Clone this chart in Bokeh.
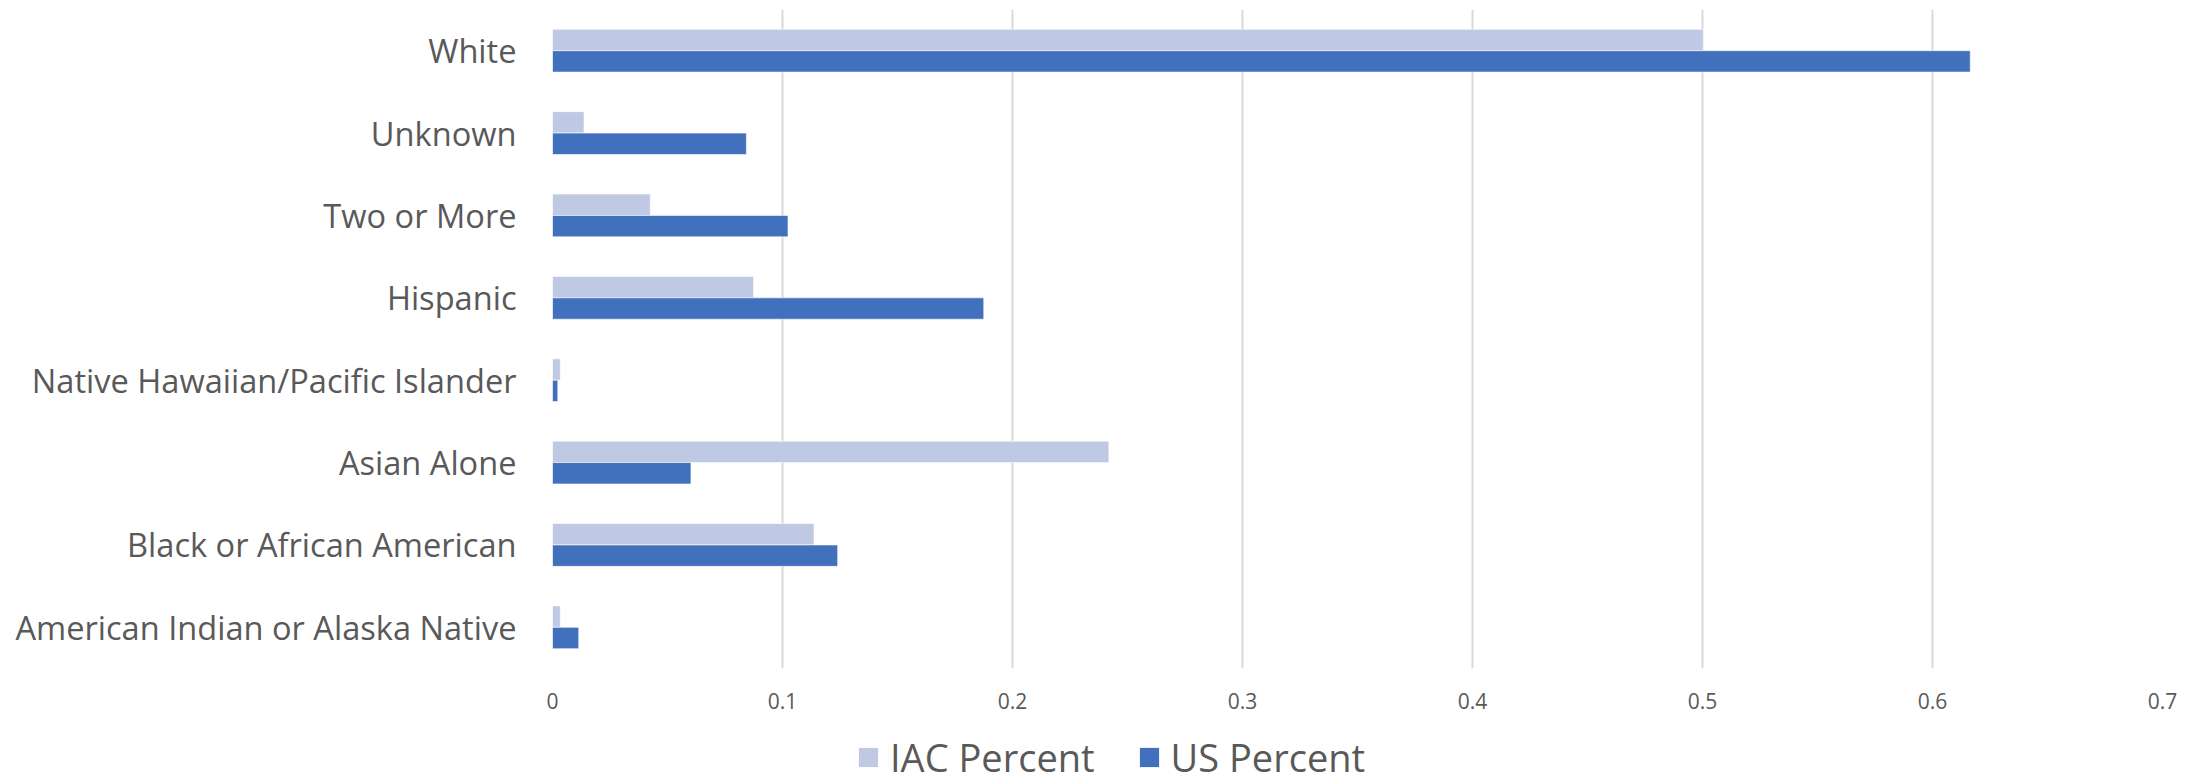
from bokeh.plotting import figure
from bokeh.layouts import column
from bokeh.models import ColumnDataSource, FactorRange, Range1d, FixedTicker, Legend, LegendItem
from bokeh.transform import dodge
from bokeh.embed import file_html
from bokeh.resources import INLINE

# Categories, bottom to top
categories = [
    "American Indian or Alaska Native",
    "Black or African American",
    "Asian Alone",
    "Native Hawaiian/Pacific Islander",
    "Hispanic",
    "Two or More",
    "Unknown",
    "White",
]
iac_percent = [0.0034, 0.1137, 0.2419, 0.0034, 0.0874, 0.0425, 0.0137, 0.5003]
us_percent = [0.0114, 0.1240, 0.0602, 0.0023, 0.1875, 0.1024, 0.0843, 0.6164]

tick_values = [0, 0.1, 0.2, 0.3, 0.4, 0.5, 0.6, 0.7]
tick_labels = ["0", "0.1", "0.2", "0.3", "0.4", "0.5", "0.6", "0.7"]

series_names = ["IAC Percent", "US Percent"]
series_colors = ["#BFC9E3", "#4170BC"]

FONT = "Open Sans"
TEXT_COLOR = "#595959"

source = ColumnDataSource(data=dict(cat=categories, iac=iac_percent, us=us_percent))

# ---- main bar chart ----
p = figure(
    width=2201, height=724,
    y_range=FactorRange(*categories),
    x_range=Range1d(0, 0.7),
    output_backend="svg", toolbar_location=None,
    min_border_left=552, min_border_right=39,
    min_border_top=9, min_border_bottom=56,
)
p.outline_line_color = None
p.background_fill_color = "white"
p.border_fill_color = "white"

bar_h = 0.26
p.hbar(y=dodge("cat", bar_h / 2, range=p.y_range), right="iac", left=0,
       height=bar_h, source=source, fill_color=series_colors[0],
       line_color="white", line_width=0.6)
p.hbar(y=dodge("cat", -bar_h / 2, range=p.y_range), right="us", left=0,
       height=bar_h, source=source, fill_color=series_colors[1],
       line_color="white", line_width=0.6)

# Grid: vertical lines only
p.ygrid.grid_line_color = None
p.xgrid.grid_line_color = "#D9D9D9"
p.xgrid.grid_line_width = 2
p.xgrid.ticker = FixedTicker(ticks=tick_values)
p.xgrid.level = "underlay"

xa = p.xaxis[0]
xa.ticker = FixedTicker(ticks=tick_values)
xa.major_label_overrides = dict(zip(tick_values, tick_labels))
xa.axis_line_color = None
xa.major_tick_line_color = None
xa.minor_tick_line_color = None
xa.major_tick_out = 0
xa.major_label_standoff = 24
xa.major_label_text_font = FONT
xa.major_label_text_font_size = "21px"
xa.major_label_text_color = TEXT_COLOR

ya = p.yaxis[0]
ya.axis_line_color = None
ya.major_tick_line_color = None
ya.major_tick_out = 0
ya.major_label_standoff = 36
ya.major_label_text_font = FONT
ya.major_label_text_font_size = "32.6px"
ya.major_label_text_color = TEXT_COLOR

# ---- legend strip underneath (its frame lines up with the chart frame) ----
leg = figure(
    width=2201, height=60,
    x_range=Range1d(0, 1), y_range=Range1d(0, 1),
    output_backend="svg", toolbar_location=None,
    min_border_left=0, min_border_right=0, min_border_top=0, min_border_bottom=0,
)
leg.axis.visible = False
leg.grid.visible = False
leg.outline_line_color = None
leg.border_fill_color = "white"

# legend keys: zero-length bars kept outside the visible range
key_src = ColumnDataSource(data=dict(y=[-5], right=[0]))
k_iac = leg.hbar(y="y", right="right", height=1, source=key_src,
                 fill_color=series_colors[0], line_color=None)
k_us = leg.hbar(y="y", right="right", height=1, source=key_src,
                fill_color=series_colors[1], line_color=None)

legend = Legend(
    items=[LegendItem(label=series_names[0], renderers=[k_iac]),
           LegendItem(label=series_names[1], renderers=[k_us])],
    orientation="horizontal",
    location=(304, 1),
    padding=0, margin=0, spacing=42,
    glyph_width=24, glyph_height=24, label_height=40,
    label_standoff=10,
    label_text_font=FONT, label_text_font_size="38px",
    label_text_color=TEXT_COLOR, label_text_baseline="middle",
    border_line_color=None, background_fill_alpha=0,
)
leg.add_layout(legend, "center")

open("out.html", "w").write(file_html(column(p, leg, spacing=0), INLINE))
